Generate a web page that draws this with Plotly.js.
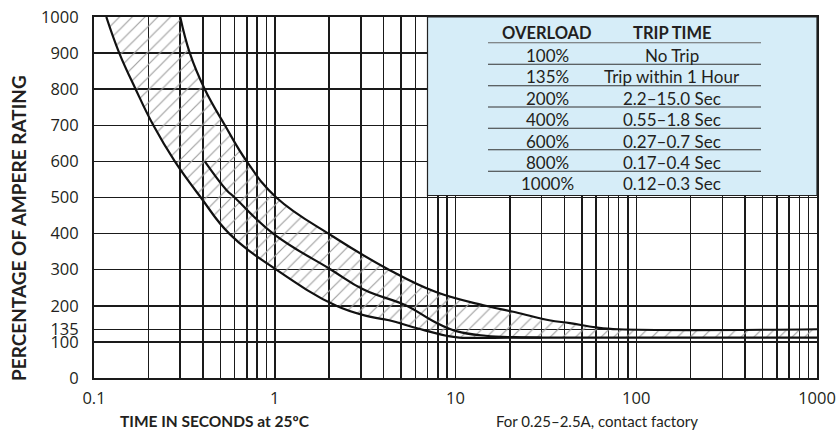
<!DOCTYPE html>
<html><head><meta charset="utf-8">
<script src="https://cdn.plot.ly/plotly-3.0.1.min.js"></script>
<style>html,body{margin:0;padding:0;background:#fff}#chart{width:838px;height:433px}</style>
</head><body><div id="chart"></div>
<script>
// Lower (fastest) trip curve
const lowerTime = [0.117, 0.138, 0.17, 0.213, 0.28, 0.39, 0.56, 1.02, 2.19, 3.35, 4.28, 6.2, 8.9, 10.5, 20, 100, 1000];
const lowerPct  = [1000, 900, 800, 700, 600, 500, 400, 300, 200, 170, 160, 137, 117, 112, 112, 112, 112];
// Middle curve
const midTime = [0.41, 0.54, 0.6, 0.98, 2.05, 3.1, 5.37, 7.5, 10.1, 14.7, 21.5, 30];
const midPct  = [600, 521, 500, 400, 300, 245, 200, 158, 130, 117, 113, 112];
// Upper (slowest) trip curve
const upperTime = [0.3, 0.339, 0.41, 0.53, 0.7, 1.02, 2.1, 4.28, 7.8, 14.7, 21.5, 33, 43, 60, 80, 1000];
const upperPct  = [1000, 900, 800, 700, 600, 500, 392, 300, 238, 200, 182, 160, 152, 140, 135, 135];

// Axis ticks
const xLabelVals = [0.1, 1, 10, 100, 1000];
const xLabelText = ['0.1', '1', '10', '100', '1000'];
const yTickVals = [0, 100, 135, 200, 300, 400, 500, 600, 700, 800, 900, 1000];

// Table
const overload = ['100%', '135%', '200%', '400%', '600%', '800%', '1000%'];
const tripTime = ['No Trip', 'Trip within 1 Hour', '2.2\u201315.0 Sec', '0.55\u20131.8 Sec', '0.27\u20130.7 Sec', '0.17\u20130.4 Sec', '0.12\u20130.3 Sec'];

// grid positions on the log axis
const decades = [0.1, 1, 10, 100];
const mults = [1, 2, 3, 4, 5, 6, 7, 8, 9];
const xGrid = [];
decades.forEach(d => mults.forEach(m => xGrid.push(+(d * m).toPrecision(3))));
xGrid.push(1000);
const xGridText = xGrid.map(v => { const i = xLabelVals.indexOf(v); return i >= 0 ? xLabelText[i] : ''; });

const FONT = 'Lato, "Open Sans", sans-serif';
const TICKFONT = '"Open Sans", Lato, sans-serif';
const TXT = '#231f20';

// pixel helpers for paper coords (plot area 94..817 x 17..378)
const L = 94, R = 817, T = 17, B = 378;
const px = x => (x - L) / (R - L);
const py = y => (B - y) / (B - T);

const curveLine = {color: '#111', width: 2.2, shape: 'spline', smoothing: 1.2};
const traces = [
  {x: lowerTime, y: lowerPct, mode: 'lines', line: curveLine, hoverinfo: 'skip'},
  {x: upperTime, y: upperPct, mode: 'lines', line: curveLine,
   fill: 'tonexty', fillcolor: 'rgba(0,0,0,0)',
   fillpattern: {shape: '/', fgcolor: '#a0a0a0', bgcolor: 'rgba(0,0,0,0)', size: 9, solidity: 0.13}, hoverinfo: 'skip'},
  {x: midTime, y: midPct, mode: 'lines', line: curveLine, hoverinfo: 'skip'}
];

const shapes = [
  {type: 'rect', xref: 'paper', yref: 'paper', x0: px(427.5), x1: 1, y0: py(195.5), y1: 1,
   fillcolor: '#d6edf8', line: {color: '#222', width: 1.2}, layer: 'above'}
];
const lineYs = [42.7, 64.3, 85.7, 107, 128.3, 149.7, 171.3];
lineYs.forEach((yy, i) => shapes.push({type: 'line', xref: 'paper', yref: 'paper', x0: px(488), x1: px(761),
  y0: py(yy), y1: py(yy), line: {color: i === 0 ? '#666' : '#333', width: 1.1}, layer: 'above'}));

function ann(text, x, y, size, bold, extra) {
  return Object.assign({text: text, x: px(x), y: py(y), xref: 'paper', yref: 'paper', showarrow: false,
    xanchor: 'center', yanchor: 'middle',
    font: {family: FONT, size: size, color: TXT, weight: bold ? 'bold' : 'normal'}}, extra || {});
}
const annotations = [
  ann('OVERLOAD', 547, 33, 16.5, true),
  ann('TRIP TIME', 672, 33, 16.5, true),
  ann('PERCENTAGE OF AMPERE RATING', 18, 228, 19, true, {textangle: -90}),
  ann('TIME IN SECONDS at 25\u00baC', 215, 421, 15.5, true),
  ann('For 0.25\u20132.5A, contact factory', 597, 421, 15, false)
];
const rowYs = [55, 77, 98.5, 119.5, 141, 162.5, 183];
overload.forEach((o, i) => {
  annotations.push(ann(o, 547, rowYs[i], 17, false));
  annotations.push(ann(tripTime[i], 672, rowYs[i], 17, false));
});

const layout = {
  width: 838, height: 433,
  margin: {l: L, r: 838 - R, t: T, b: 433 - B, pad: 0},
  paper_bgcolor: '#fff', plot_bgcolor: '#fff',
  showlegend: false,
  font: {family: FONT, color: TXT},
  xaxis: {type: 'log', range: [-1, 3], tickmode: 'array', tickvals: xGrid, ticktext: xGridText,
    showgrid: true, gridcolor: '#1a1a1a', gridwidth: 1.5, zeroline: false,
    showline: true, linecolor: '#1a1a1a', linewidth: 2, mirror: true,
    ticks: 'outside', ticklen: 4, tickcolor: 'rgba(0,0,0,0)', tickfont: {family: TICKFONT, size: 16.5, color: TXT}},
  yaxis: {range: [0, 1000], tickmode: 'array', tickvals: yTickVals, ticktext: yTickVals.map(String),
    showgrid: true, gridcolor: '#1a1a1a', gridwidth: 1.5, zeroline: false,
    showline: true, linecolor: '#1a1a1a', linewidth: 2, mirror: true,
    ticks: 'outside', ticklen: 10, tickcolor: 'rgba(0,0,0,0)', tickfont: {family: TICKFONT, size: 16.5, color: TXT}},
  shapes: shapes,
  annotations: annotations
};

Plotly.newPlot('chart', traces, layout, {staticPlot: true, displayModeBar: false});
</script>
</body></html>
